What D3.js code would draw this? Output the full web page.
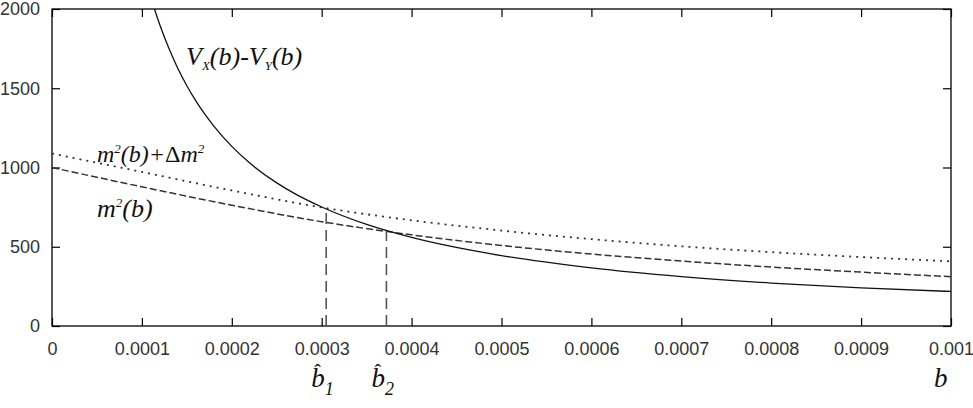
<!DOCTYPE html>
<html>
<head>
<meta charset="utf-8">
<script src="https://cdn.jsdelivr.net/npm/d3@7"></script>
<style>
  body { margin: 0; background: #fff; }
  svg { display: block; }
  .tick text { font-family: "Liberation Sans", Arial, sans-serif; font-size: 18px; fill: #333; }
  .lbl { font-family: "Liberation Serif", "Times New Roman", serif; font-style: italic; fill: #111; }
</style>
</head>
<body>
<div id="container"></div>
<script>
/* DATA */
const xTicks = [0, 0.0001, 0.0002, 0.0003, 0.0004, 0.0005, 0.0006, 0.0007, 0.0008, 0.0009, 0.001];
const yTicks = [0, 500, 1000, 1500, 2000];

// V_X(b) - V_Y(b)
const diffB = [0.000114, 0.00012, 0.00013, 0.00014, 0.00015, 0.00016, 0.00017, 0.00018, 0.0002, 0.00022, 0.00025, 0.00027, 0.0003, 0.00035, 0.0004, 0.0005, 0.0006, 0.0007, 0.0008, 0.0009, 0.001];
const diffV = [2000, 1899, 1752, 1625, 1516, 1420, 1336, 1261, 1133, 1028, 903, 835, 751, 641, 559, 444, 367, 312, 271, 240, 218];

// m^2(b) and m^2(b) + Delta m^2
const massB = [0, 0.0001, 0.0002, 0.0003, 0.0004, 0.0005, 0.0006, 0.0007, 0.0008, 0.0009, 0.001];
const m2V = [1000, 878, 762, 658, 575, 508, 454, 410, 372, 340, 311];
const m2dV = [1088, 972, 855, 748, 667, 602, 548, 503, 466, 435, 408];

// crossing points b-hat_1, b-hat_2
const crossB = [0.000305, 0.000372];
const crossV = [740, 598];

/* LAYOUT */
const width = 973, height = 408;
const margin = {left: 52, right: 22, top: 9, bottom: 82};

let svg = d3.select("#container").append("svg")
  .attr("width", width)
  .attr("height", height);

const xScale = d3.scaleLinear()
  .domain([0, 0.001])
  .range([margin.left, width - margin.right]);

const yScale = d3.scaleLinear()
  .domain([0, 2000])
  .range([height - margin.bottom, margin.top]);

const x0 = xScale.range()[0], x1 = xScale.range()[1];
const y0 = yScale.range()[0], y1 = yScale.range()[1];

const fmtX = d => d === 0 ? "0" : String(+d.toFixed(4));

// clip
svg.append("clipPath").attr("id", "plot")
  .append("rect")
  .attr("x", x0).attr("y", y1)
  .attr("width", x1 - x0).attr("height", y0 - y1);

// Axes with inward ticks on all four sides
const tk = 8;
svg.append("g")
  .attr("transform", `translate(0,${y0})`)
  .call(d3.axisBottom(xScale).tickValues(xTicks).tickFormat(fmtX).tickSizeInner(-tk).tickSizeOuter(0).tickPadding(16))
  .call(g => g.select(".domain").remove());

svg.append("g")
  .attr("transform", `translate(0,${y1})`)
  .call(d3.axisTop(xScale).tickValues(xTicks).tickFormat("").tickSizeInner(-tk).tickSizeOuter(0))
  .call(g => g.select(".domain").remove());

svg.append("g")
  .attr("transform", `translate(${x0},0)`)
  .call(d3.axisLeft(yScale).tickValues(yTicks).tickFormat(d => String(d)).tickSizeInner(-tk).tickSizeOuter(0).tickPadding(12))
  .call(g => g.select(".domain").remove());

svg.append("g")
  .attr("transform", `translate(${x1},0)`)
  .call(d3.axisRight(yScale).tickValues(yTicks).tickFormat("").tickSizeInner(-tk).tickSizeOuter(0))
  .call(g => g.select(".domain").remove());

svg.selectAll(".tick line").attr("stroke", "#000").attr("stroke-width", 1.2);

// frame
svg.append("rect")
  .attr("x", x0).attr("y", y1)
  .attr("width", x1 - x0).attr("height", y0 - y1)
  .attr("fill", "none")
  .attr("stroke", "#000")
  .attr("stroke-width", 1.3);

/* CURVES */
const line = d3.line()
  .x(d => xScale(d[0]))
  .y(d => yScale(d[1]))
  .curve(d3.curveMonotoneX);

const plot = svg.append("g").attr("clip-path", "url(#plot)");

plot.append("path")
  .datum(massB.map((b, i) => [b, m2dV[i]]))
  .attr("d", line)
  .attr("fill", "none")
  .attr("stroke", "#333")
  .attr("stroke-width", 1.8)
  .attr("stroke-dasharray", "2,5");

plot.append("path")
  .datum(massB.map((b, i) => [b, m2V[i]]))
  .attr("d", line)
  .attr("fill", "none")
  .attr("stroke", "#333")
  .attr("stroke-width", 1.5)
  .attr("stroke-dasharray", "7,3");

plot.append("path")
  .datum(diffB.map((b, i) => [b, diffV[i]]))
  .attr("d", line)
  .attr("fill", "none")
  .attr("stroke", "#111")
  .attr("stroke-width", 1.3);

// vertical markers at the crossings
plot.selectAll("line.mark")
  .data(crossB.map((b, i) => ({b: b, v: crossV[i]})))
  .join("line")
  .attr("class", "mark")
  .attr("x1", d => xScale(d.b)).attr("x2", d => xScale(d.b))
  .attr("y1", y0).attr("y2", d => yScale(d.v))
  .attr("stroke", "#555")
  .attr("stroke-width", 1.6)
  .attr("stroke-dasharray", "11,6");

/* LABELS */
const vlab = svg.append("text").attr("class", "lbl")
  .attr("x", 186).attr("y", 65)
  .style("font-size", "26px");
vlab.append("tspan").text("V");
vlab.append("tspan").text("X").style("font-size", "13px").attr("dy", 5);
vlab.append("tspan").text("(b)-V").attr("dy", -5);
vlab.append("tspan").text("Y").style("font-size", "13px").attr("dy", 5);
vlab.append("tspan").text("(b)").attr("dy", -5);

const mdl = svg.append("text").attr("class", "lbl")
  .attr("x", 97).attr("y", 162)
  .style("font-size", "24px");
mdl.append("tspan").text("m");
mdl.append("tspan").text("2").style("font-size", "13px").attr("dy", -9);
mdl.append("tspan").text("(b)+").attr("dy", 9);
mdl.append("tspan").text("Δ").style("font-style", "normal");
mdl.append("tspan").text("m");
mdl.append("tspan").text("2").style("font-size", "13px").attr("dy", -9);

const ml = svg.append("text").attr("class", "lbl")
  .attr("x", 97).attr("y", 217)
  .style("font-size", "26px");
ml.append("tspan").text("m");
ml.append("tspan").text("2").style("font-size", "13px").attr("dy", -10);
ml.append("tspan").text("(b)").attr("dy", 10);

// b-hat labels under the crossings
const bhat = svg.selectAll("g.bhat")
  .data(crossB.map((b, i) => ({b: b, n: i + 1})))
  .join("g")
  .attr("class", "bhat")
  .attr("transform", d => `translate(${xScale(d.b) - 15},387)`);

bhat.append("text").attr("class", "lbl")
  .style("font-size", "27px")
  .text("b")
  .append("tspan").text(d => d.n).style("font-size", "18px").attr("dy", 8);

bhat.append("text").attr("class", "lbl")
  .attr("x", 3).attr("y", -8)
  .style("font-size", "20px")
  .style("font-style", "normal")
  .text("ˆ");

svg.append("text").attr("class", "lbl")
  .attr("x", 934).attr("y", 387)
  .style("font-size", "27px")
  .text("b");
</script>
</body>
</html>
